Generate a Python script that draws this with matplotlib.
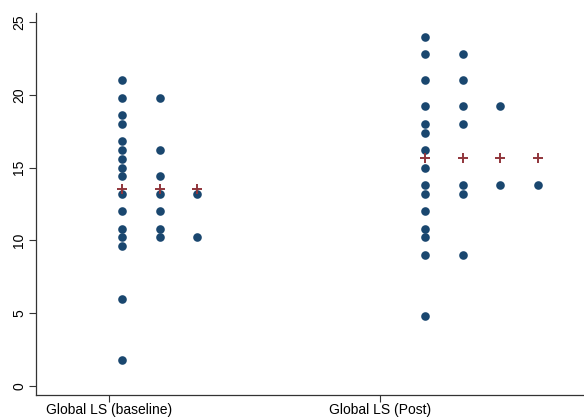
import numpy as np
import matplotlib.pyplot as plt

plt.rcParams['font.family'] = ['Liberation Sans', 'DejaVu Sans']

# binned values (as shown by the dot plot), duplicates stack sideways
groups = ['Global LS (baseline)', 'Global LS (Post)']
baseline = [21.0, 19.8, 19.8, 18.6, 18.0, 16.8, 16.2, 16.2, 15.6, 15.0,
            14.4, 14.4, 13.2, 13.2, 13.2, 12.0, 12.0, 10.8, 10.8, 10.2,
            10.2, 10.2, 9.6, 6.0, 1.8]
post = [24.0, 22.8, 22.8, 21.0, 21.0, 19.2, 19.2, 19.2, 18.0, 18.0,
        17.4, 16.2, 15.0, 13.8, 13.8, 13.8, 13.8, 13.2, 13.2, 12.0,
        10.8, 10.2, 9.0, 9.0, 4.8]
yticks = [0, 5, 10, 15, 20, 25]

navy = '#1a476f'
maroon = '#90353b'

# layout: where the first column of each group sits, and column spacing
start = [0.048, 0.166]
step = 0.139

fig = plt.figure(figsize=(5.84, 4.17), dpi=100)
ax = fig.add_axes([0.0616, 0.0528, 0.9384, 0.916])

for g, vals in enumerate([baseline, post]):
    vals = np.array(vals)
    xs, ys = [], []
    for v in np.unique(vals):
        n = np.sum(np.isclose(vals, v))
        for k in range(n):
            xs.append(g + start[g] + k * step)
            ys.append(v)
    ncol = max(np.sum(np.isclose(vals, v)) for v in np.unique(vals))
    ax.plot(xs, ys, 'o', color=navy, markersize=6.2, markeredgewidth=0, zorder=3)
    mx = [g + start[g] + k * step for k in range(ncol)]
    ax.plot(mx, [vals.mean()] * ncol, '+', color=maroon, markersize=7,
            markeredgewidth=1.4, zorder=4)

ax.set_xlim(-0.269, 1.753)
ax.set_ylim(-0.62, 25.62)
ax.set_xticks([0, 1])
ax.set_xticklabels(groups, fontsize=10)
ax.set_yticks(yticks)
ax.set_yticklabels([str(t) for t in yticks], fontsize=10, rotation=90, va='center')
ax.tick_params(axis='both', length=5, width=0.8, color='#333333', pad=2)
ax.tick_params(axis='x', pad=0.5)

ax.spines['top'].set_visible(False)
ax.spines['right'].set_visible(False)
for s in ['left', 'bottom']:
    ax.spines[s].set_color('#333333')
    ax.spines[s].set_linewidth(0.9)

fig.savefig('out.png', dpi=100)
